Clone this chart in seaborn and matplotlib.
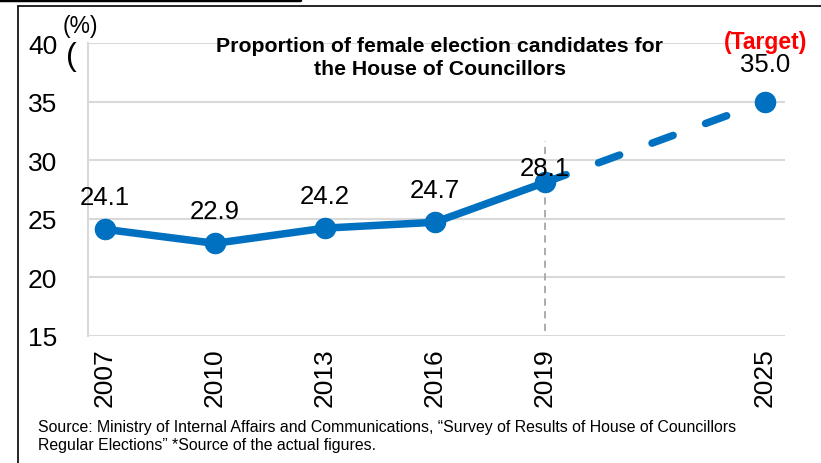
import matplotlib
matplotlib.use("Agg")
import matplotlib.pyplot as plt
import seaborn as sns
import pandas as pd
from matplotlib.lines import Line2D

years = [2007, 2010, 2013, 2016, 2019, 2025]
values = [24.1, 22.9, 24.2, 24.7, 28.1, 35.0]
tick_labels = ["2007", "2010", "2013", "2016", "2019", "2025"]
title = "Proportion of female election candidates for\nthe House of Councillors"
source = ("Source: Ministry of Internal Affairs and Communications, \u201cSurvey of Results of House of Councillors\n"
          "Regular Elections\u201d *Source of the actual figures.")

BLUE = "#0070C0"

df = pd.DataFrame({"year": years, "value": values})
# election every 3 years -> slot index (2022 slot left empty)
df["pos"] = (df["year"] - 2007) / 3
actual = df[df["year"] <= 2019]
target = df[df["year"] >= 2019]

sns.set_theme(style="whitegrid")
plt.rcParams["font.family"] = ["Liberation Sans", "DejaVu Sans"]
plt.rcParams["text.color"] = "black"
plt.rcParams["xtick.color"] = "black"
plt.rcParams["ytick.color"] = "black"

fig = plt.figure(figsize=(8.21, 4.64), dpi=100)
ax = fig.add_axes([0.107, 0.274, 0.849, 0.631])

sns.lineplot(data=actual, x="pos", y="value", color=BLUE, lw=5.4,
             solid_capstyle="round", ax=ax)
sns.lineplot(data=target, x="pos", y="value", color=BLUE, lw=5.4,
             ax=ax, dashes=False)
ax.lines[-1].set_linestyle((0, (3.0, 4.6)))
ax.lines[-1].set_dash_capstyle("round")
ax.plot(df["pos"], df["value"], "o", color=BLUE, ms=14.5, zorder=5)

ax.vlines(4, 15.4, 31.6, colors="#a6a6a6", linestyles=(0, (4, 3)), lw=1.3, zorder=1)

offsets = [32, 32, 32, 32, 14, 38]
for p, v, off in zip(df["pos"], df["value"], offsets):
    ax.annotate(f"{v:.1f}", (p, v), xytext=(0, off), textcoords="offset pixels",
                ha="center", va="center", fontsize=18.5, color="black", zorder=6)
ax.annotate("(Target)", (df["pos"].iloc[-1], df["value"].iloc[-1]), xytext=(0, 60),
            textcoords="offset pixels", ha="center", va="center", fontsize=16.5,
            fontweight="bold", color="red")

ax.set_xlim(-0.155, 6.18)
ax.set_ylim(15, 40)
ax.set_yticks([15, 20, 25, 30, 35, 40])
ax.set_xticks(df["pos"])
ax.set_xticklabels(tick_labels, rotation=90)
ax.tick_params(axis="y", labelsize=19, pad=22, length=0)
ax.tick_params(axis="x", labelsize=19, pad=8, length=0)
ax.set_xlabel("")
ax.set_ylabel("")
ax.grid(axis="x", visible=False)
ax.grid(axis="y", color="#d9d9d9", lw=1.5)
for s in ["top", "right", "bottom"]:
    ax.spines[s].set_visible(False)
ax.spines["left"].set_color("#d9d9d9")
ax.spines["left"].set_linewidth(1.5)

ax.text(0.505, 1.025, title, transform=ax.transAxes, ha="center", va="top",
        fontsize=15.3, fontweight="bold", linespacing=1.3)

fig.text(80 / 821, 1 - 27 / 464, "(%)", ha="center", va="center", fontsize=16.5)
fig.text(71 / 821, 1 - 57 / 464, "(", ha="center", va="center", fontsize=23)
fig.text(38 / 821, 1 - 437 / 464, source, ha="left", va="center", fontsize=11.4,
         linespacing=1.25)

# frame lines around the figure panel
fig.add_artist(Line2D([18 / 821, 18 / 821], [0, 1 - 7 / 464], color="black", lw=1.2))
fig.add_artist(Line2D([18 / 821, 1], [1 - 7 / 464, 1 - 7 / 464], color="black", lw=1.2))
fig.add_artist(Line2D([0, 300 / 821], [1 - 1 / 464, 1 - 1 / 464], color="black", lw=2.5))

fig.savefig("out.png", dpi=100)
